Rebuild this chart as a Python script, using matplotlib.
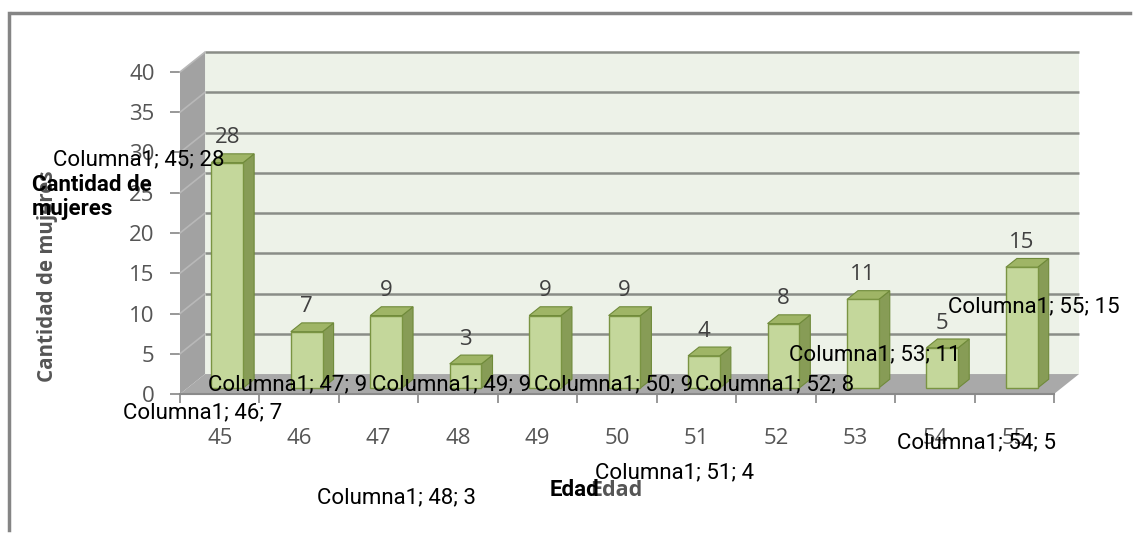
import numpy as np
import matplotlib
matplotlib.use('Agg')
import matplotlib.pyplot as plt
from matplotlib.patches import Polygon
from matplotlib.lines import Line2D

# women per age
edades = [45, 46, 47, 48, 49, 50, 51, 52, 53, 54, 55]
cantidad = [28, 7, 9, 3, 9, 9, 4, 8, 11, 5, 15]
y_ticks = [0, 5, 10, 15, 20, 25, 30, 35, 40]
serie = 'Columna1'

W, H = 1135, 536
DPI = 100

# fake 3D: depth of the box in data units (categories, values)
DX = 0.315
DY = 2.48
# bar depth range (fraction of box depth) and width
D0, D1 = 0.30, 0.74
BW = 0.40

GRAY_TXT = '#555555'
FONT_XL = 'Open Sans'


def px(x, y):
    """ pixel position -> figure fraction """
    return x / W, 1 - y / H


fig = plt.figure(figsize=(W / DPI, H / DPI), dpi=DPI)
fig.patch.set_facecolor('white')

l, b = px(180, 394)
r, t = px(1054, 72)
ax = fig.add_axes([l, b, r - l, t - b])
ax.patch.set_visible(False)
for s in ax.spines.values():
    s.set_visible(False)

n = len(edades)
xmin, xmax = -0.5, n - 0.5
ymax = y_ticks[-1]
ax.set_xlim(xmin, xmax)
ax.set_ylim(0, ymax)


def poly(pts, fc, ec='none', lw=0, z=1):
    p = Polygon(pts, closed=True, facecolor=fc, edgecolor=ec, linewidth=lw,
                zorder=z, clip_on=False)
    ax.add_patch(p)


# back wall
poly([(xmin + DX, DY), (xmin + DX, ymax + DY), (xmax + DX, ymax + DY), (xmax + DX, DY)],
     '#edf2e8', z=1)
for v in y_ticks[1:]:
    ax.plot([xmin + DX, xmax + DX], [v + DY, v + DY], color='#8a8d87', lw=1.8,
            zorder=2, clip_on=False, solid_capstyle='butt')

# side wall
poly([(xmin, 0), (xmin, ymax), (xmin + DX, ymax + DY), (xmin + DX, DY)], '#a2a2a2', z=3)
for v in y_ticks[1:]:
    ax.plot([xmin, xmin + DX], [v, v + DY], color='#b8b8b8', lw=1.2, zorder=3.5,
            clip_on=False)

# floor
poly([(xmin, 0), (xmin + DX, DY), (xmax + DX, DY), (xmax, 0)], '#a9a9a9', z=3)
ax.plot([xmin, xmax], [0, 0], color='#8a8a8a', lw=1.5, zorder=3.6, clip_on=False)

# bars
ddx = (D1 - D0) * DX
ddy = (D1 - D0) * DY
for i, v in enumerate(cantidad):
    x0 = i - BW / 2 + D0 * DX
    x1 = x0 + BW
    y0 = D0 * DY
    y1 = y0 + v
    poly([(x1, y0), (x1 + ddx, y0 + ddy), (x1 + ddx, y1 + ddy), (x1, y1)],
         '#879c56', '#6f8a3a', 0.8, z=5)
    poly([(x0, y1), (x1, y1), (x1 + ddx, y1 + ddy), (x0 + ddx, y1 + ddy)],
         '#9fb566', '#6f8a3a', 0.8, z=5)
    poly([(x0, y0), (x1, y0), (x1, y1), (x0, y1)], '#c4d79b', '#7a9442', 1.0, z=6)
    ax.annotate(str(v), xy=(x0 + BW / 2, y1 + ddy), xytext=(0, 11.5),
                textcoords='offset points', ha='center', va='center',
                fontsize=16, color='#404040', family=FONT_XL, zorder=8,
                annotation_clip=False)

# axes ticks
ax.set_yticks(y_ticks)
ax.set_yticklabels([str(v) for v in y_ticks], family=FONT_XL, fontsize=16,
                   color=GRAY_TXT)
ax.tick_params(axis='y', direction='out', length=7.2, width=1.2, color='#868686',
               pad=11)
ax.set_xticks(range(n))
ax.set_xticklabels([str(e) for e in edades], family=FONT_XL, fontsize=16,
                   color=GRAY_TXT)
ax.tick_params(axis='x', which='major', length=0, pad=24.5)
ax.set_xticks(np.arange(xmin, xmax + 0.5), minor=True)
ax.tick_params(axis='x', which='minor', direction='out', length=6.5, width=1.2,
               color='#868686')

# axis titles
fig.text(*px(48, 276), 'Cantidad de mujeres', rotation=90, ha='center', va='center',
         family=FONT_XL, fontweight='bold', fontsize=14.8, color=GRAY_TXT)
fig.text(*px(616, 490), 'Edad', ha='center', va='center', family=FONT_XL,
         fontweight='bold', fontsize=15.5, color=GRAY_TXT)

# outer frame
fig.add_artist(Line2D([12 / W, 1130 / W], [1 - 13 / H, 1 - 13 / H], color='#858585',
                      lw=2.5, transform=fig.transFigure))
fig.add_artist(Line2D([9 / W, 9 / W], [1 - 13 / H, 1 - 530 / H], color='#858585',
                      lw=2.5, transform=fig.transFigure))

# data label layer (left edge, vertical centre in px)
label_pos = [(53, 160), (123, 413), (208, 385), (317, 498), (372, 385), (534, 385),
             (595, 473), (695, 385), (789, 355), (897, 443), (948, 307)]
for (e, v), (lx, ly) in zip(zip(edades, cantidad), label_pos):
    fig.text(*px(lx, ly), f'{serie}; {e}; {v}', ha='left', va='center',
             family='Roboto', fontsize=16, color='black', zorder=10)

fig.text(*px(32, 197), 'Cantidad de\nmujeres', ha='left', va='center',
         family='Roboto', fontweight='bold', fontsize=16, color='black',
         linespacing=1.15, zorder=10)
fig.text(*px(550, 490), 'Edad', ha='left', va='center', family='Roboto',
         fontweight='bold', fontsize=16, color='black', zorder=10)

fig.savefig('out.png', dpi=DPI)
